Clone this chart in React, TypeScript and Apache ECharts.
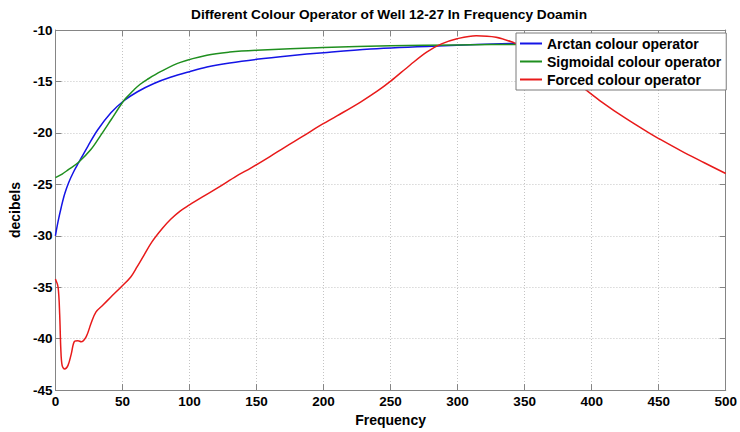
import React, { useEffect, useRef } from "react";
import * as echarts from "echarts";

const titleText = "Different Colour Operator of Well 12-27 In Frequency Doamin";
const xName = "Frequency";
const yName = "decibels";
const seriesNames = ["Arctan colour operator", "Sigmoidal colour operator", "Forced colour operator"];

const arctanFreq = [0, 2, 4.4, 7, 10, 13.5, 17.3, 24.2, 31.6, 41.4, 50.8, 61.2, 73.5, 85.8, 100, 113, 130, 150, 175, 200, 235, 285, 343, 400, 450, 500];
const arctanDb = [-30, -28.6, -27.2, -25.9, -24.8, -23.8, -22.9, -21.3, -19.7, -18.05, -16.9, -16.0, -15.2, -14.6, -14.05, -13.6, -13.2, -12.85, -12.5, -12.2, -11.85, -11.55, -11.3, -11.15, -11.05, -10.95];

const sigmoidFreq = [0, 5, 9.4, 17.3, 26.6, 34, 41.4, 50.8, 55, 58.7, 63, 68.6, 78.4, 93.2, 113, 130, 150, 200, 250, 300, 350, 400, 450, 500];
const sigmoidDb = [-24.35, -24.0, -23.6, -22.85, -21.6, -20.2, -18.75, -16.9, -16.3, -15.8, -15.3, -14.8, -14.05, -13.15, -12.45, -12.15, -11.97, -11.7, -11.53, -11.45, -11.4, -11.45, -11.5, -11.6];

const forcedFreq = [0, 2, 3.2, 4, 5, 6.9, 9.4, 11.8, 14.3, 16.8, 19.2, 23, 26.6, 30.3, 35.3, 41.4, 48.8, 56.2, 61, 66, 72, 79.7, 86, 93, 100, 110, 121.6, 135, 146, 160, 171, 185, 196, 210, 227.6, 240, 250.3, 264.6, 276.9, 288, 299.6, 313.9, 328.7, 342.2, 350, 360, 370, 380, 394, 407.6, 424.9, 442.1, 450, 466.7, 484, 500];
const forcedDb = [-34.2, -35, -37.7, -40.9, -42.6, -42.95, -42.6, -41.5, -40.25, -40.2, -40.3, -39.8, -38.5, -37.4, -36.75, -35.95, -35, -34.0, -33.0, -31.9, -30.6, -29.3, -28.4, -27.6, -27.0, -26.2, -25.3, -24.2, -23.4, -22.3, -21.4, -20.3, -19.4, -18.35, -17.0, -15.95, -14.95, -13.4, -12.15, -11.35, -10.85, -10.55, -10.7, -11.25, -11.7, -12.45, -13.3, -14.3, -15.65, -17.0, -18.55, -19.95, -20.55, -21.75, -22.9, -23.95];

const xTicks = { min: 0, max: 500, interval: 50 };
const yTicks = { min: -45, max: -10, interval: 5 };

const FONT = "'Liberation Sans', Arial, sans-serif";
const FRAME = "#858585";

function pairs(xs: number[], ys: number[]) {
  return xs.map((x, i) => [x, ys[i]]);
}

export default function App() {
  const ref = useRef<HTMLDivElement>(null);
  useEffect(() => {
    document.body.style.margin = "0";
    const chart = echarts.init(ref.current!, null, { renderer: "svg" });
    const tickLabel = { color: "#000", fontWeight: "bold" as const, fontSize: 13.5, fontFamily: FONT };
    const frameAxis = (extra: any) => ({
      type: "value",
      axisLine: { show: true, onZero: false, lineStyle: { color: FRAME, width: 1 } },
      axisTick: { show: true, inside: true, length: 6, lineStyle: { color: FRAME } },
      ...extra,
    });
    chart.setOption({
      animation: false,
      backgroundColor: "#fff",
      textStyle: { fontFamily: FONT },
      title: {
        text: titleText,
        left: 389,
        textAlign: "center",
        top: 7,
        padding: 0,
        textStyle: { fontSize: 13.7, fontWeight: "bold", color: "#000", fontFamily: FONT },
      },
      grid: { left: 52, right: 12, top: 30, bottom: 36, containLabel: false },
      legend: {
        orient: "vertical",
        left: 516,
        top: 33,
        padding: [3, 5, 3, 4],
        itemGap: 3,
        itemWidth: 22,
        itemHeight: 2,
        itemTextGap: 3,
        icon: "rect",
        backgroundColor: "#fff",
        borderColor: "#7a7a7a",
        borderWidth: 1,
        textStyle: { fontSize: 14, fontWeight: "bold", color: "#000", fontFamily: FONT, lineHeight: 15 },
        data: seriesNames,
      },
      xAxis: [
        frameAxis({
          position: "bottom",
          ...xTicks,
          name: xName,
          nameLocation: "middle",
          nameGap: 17,
          nameTextStyle: { fontSize: 14, fontWeight: "bold", color: "#000", fontFamily: FONT },
          axisLabel: { ...tickLabel, margin: 4 },
          splitLine: { show: true, lineStyle: { color: "#c4c4c4", type: [1, 2], width: 1 } },
        }),
        frameAxis({
          position: "top",
          ...xTicks,
          axisLabel: { show: false },
          splitLine: { show: false },
        }),
      ],
      yAxis: [
        frameAxis({
          position: "left",
          ...yTicks,
          name: yName,
          nameLocation: "middle",
          nameRotate: 90,
          nameGap: 27,
          nameTextStyle: { fontSize: 14, fontWeight: "bold", color: "#000", fontFamily: FONT },
          axisLabel: { ...tickLabel, margin: 3 },
          splitLine: { show: true, lineStyle: { color: "#c4c4c4", type: [1, 2], width: 1 } },
        }),
        frameAxis({
          position: "right",
          ...yTicks,
          axisLabel: { show: false },
          splitLine: { show: false },
        }),
      ],
      series: [
        {
          name: seriesNames[0],
          type: "line",
          showSymbol: false,
          smooth: 0.35,
          data: pairs(arctanFreq, arctanDb),
          lineStyle: { color: "#1414e6", width: 1.5 },
          itemStyle: { color: "#1414e6" },
        },
        {
          name: seriesNames[1],
          type: "line",
          showSymbol: false,
          smooth: 0.35,
          data: pairs(sigmoidFreq, sigmoidDb),
          lineStyle: { color: "#1f8f1f", width: 1.5 },
          itemStyle: { color: "#1f8f1f" },
        },
        {
          name: seriesNames[2],
          type: "line",
          showSymbol: false,
          smooth: 0.35,
          data: pairs(forcedFreq, forcedDb),
          lineStyle: { color: "#e81a1a", width: 1.5 },
          itemStyle: { color: "#e81a1a" },
        },
      ],
    });
    return () => chart.dispose();
  }, []);
  return <div ref={ref} style={{ width: 740, height: 432 }} />;
}
